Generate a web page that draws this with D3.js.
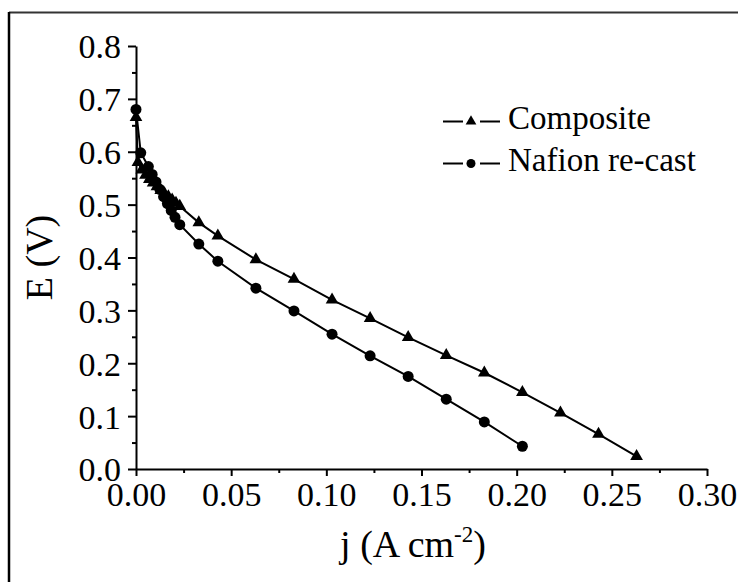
<!DOCTYPE html>
<html>
<head>
<meta charset="utf-8">
<script src="https://cdn.jsdelivr.net/npm/d3@7"></script>
<style>
  html, body { margin: 0; padding: 0; background: #fff; }
  #outer { width: 738px; height: 582px; }
</style>
</head>
<body>
<div id="outer"></div>
<script>
////////////////////////////////////////////////////////////////
// Data
////////////////////////////////////////////////////////////////
const compositeJ = [0, 0.001, 0.003, 0.005, 0.007, 0.009, 0.011, 0.013, 0.015, 0.017, 0.019, 0.021, 0.023,
  0.033, 0.043, 0.063, 0.083, 0.103, 0.123, 0.143, 0.163, 0.183, 0.203, 0.223, 0.243, 0.263];
const compositeE = [0.665, 0.580, 0.566, 0.556, 0.548, 0.541, 0.534, 0.527, 0.521, 0.515, 0.509, 0.503, 0.497,
  0.466, 0.441, 0.396, 0.359, 0.320, 0.285, 0.249, 0.215, 0.182, 0.145, 0.106, 0.066, 0.024];

const nafionJ = [0, 0.0025, 0.0065, 0.0085, 0.0105, 0.0125, 0.0145, 0.0165, 0.0185, 0.0205, 0.023,
  0.033, 0.043, 0.063, 0.083, 0.103, 0.123, 0.143, 0.163, 0.183, 0.203];
const nafionE = [0.680, 0.598, 0.572, 0.557, 0.543, 0.529, 0.515, 0.502, 0.489, 0.476, 0.462,
  0.4255, 0.393, 0.342, 0.299, 0.255, 0.214, 0.175, 0.132, 0.089, 0.043];

const xTicks = [0, 0.05, 0.10, 0.15, 0.20, 0.25, 0.30];
const yTicks = [0, 0.1, 0.2, 0.3, 0.4, 0.5, 0.6, 0.7, 0.8];
const seriesNames = ['Composite', 'Nafion re-cast'];

////////// Hard Coded Defs //////////
const width = 738;
const height = 582;
const font = "'Liberation Serif', 'Times New Roman', serif";
const tickFontSize = 34;
const legendFontSize = 33;
const titleFontSize = 38;

const x = d3.scaleLinear().domain([0, 0.30]).range([136, 707]);
const y = d3.scaleLinear().domain([0, 0.8]).range([469, 46]);

const svg = d3.select('#outer').append('svg')
  .attr('width', width)
  .attr('height', height)
  .style('display', 'block');

// outer frame (only top and left edges show)
svg.append('line')
  .attr('x1', 9).attr('x2', width).attr('y1', 12.5).attr('y2', 12.5)
  .attr('stroke', '#333').attr('stroke-width', 2);
svg.append('line')
  .attr('x1', 9).attr('x2', 9).attr('y1', 12).attr('y2', height)
  .attr('stroke', '#000').attr('stroke-width', 2.5);

////////////////////////////////////////////////////////////////
// Axes
////////////////////////////////////////////////////////////////
const styleAxis = g => {
  g.select('.domain').attr('stroke', '#000').attr('stroke-width', 2);
  g.selectAll('.tick line').attr('stroke', '#000').attr('stroke-width', 2);
  g.selectAll('.tick text')
    .attr('fill', '#000')
    .style('font-family', font)
    .style('font-size', tickFontSize + 'px');
};

// minor ticks first so majors sit on top
svg.append('g')
  .attr('transform', `translate(0,${y(0)})`)
  .call(d3.axisBottom(x).tickValues(d3.range(0.025, 0.3, 0.05)).tickSize(4).tickFormat('').tickSizeOuter(0))
  .call(g => { g.select('.domain').remove(); g.selectAll('.tick line').attr('stroke', '#000').attr('stroke-width', 2); });

svg.append('g')
  .attr('transform', `translate(${x(0)},0)`)
  .call(d3.axisLeft(y).tickValues(d3.range(0.05, 0.8, 0.1)).tickSize(4).tickFormat('').tickSizeOuter(0))
  .call(g => { g.select('.domain').remove(); g.selectAll('.tick line').attr('stroke', '#000').attr('stroke-width', 2); });

svg.append('g')
  .attr('transform', `translate(0,${y(0)})`)
  .call(d3.axisBottom(x).tickValues(xTicks).tickFormat(d3.format('.2f')).tickSize(7).tickPadding(6).tickSizeOuter(0))
  .call(styleAxis);

svg.append('g')
  .attr('transform', `translate(${x(0)},0)`)
  .call(d3.axisLeft(y).tickValues(yTicks).tickFormat(d3.format('.1f')).tickSize(8).tickPadding(7).tickSizeOuter(0))
  .call(styleAxis)
  .call(g => g.selectAll('.tick text').attr('dy', '0.35em'));

// axis titles
const xTitle = svg.append('text')
  .attr('x', 413)
  .attr('y', 557)
  .attr('text-anchor', 'middle')
  .style('font-family', font)
  .style('font-size', titleFontSize + 'px')
  .attr('fill', '#000');
xTitle.append('tspan').text('j (A cm');
xTitle.append('tspan').attr('dy', -15).style('font-size', '23px').text('-2');
xTitle.append('tspan').attr('dy', 15).text(')');

svg.append('text')
  .attr('transform', `translate(52,${(y(0) + y(0.8)) / 2}) rotate(-90)`)
  .attr('text-anchor', 'middle')
  .style('font-family', font)
  .style('font-size', titleFontSize + 'px')
  .attr('fill', '#000')
  .text('E (V)');

////////////////////////////////////////////////////////////////
// Series
////////////////////////////////////////////////////////////////
const composite = compositeJ.map((j, i) => ({ j, e: compositeE[i] }));
const nafion = nafionJ.map((j, i) => ({ j, e: nafionE[i] }));

const line = d3.line().x(d => x(d.j)).y(d => y(d.e));
const triangle = d3.symbol().type(d3.symbolTriangle).size(70);

[composite, nafion].forEach(data => {
  svg.append('path')
    .datum(data)
    .attr('d', line)
    .attr('fill', 'none')
    .attr('stroke', '#000')
    .attr('stroke-width', 2);
});

svg.append('g').selectAll('path')
  .data(composite)
  .join('path')
  .attr('transform', d => `translate(${x(d.j)},${y(d.e)})`)
  .attr('d', triangle)
  .attr('fill', '#000');

svg.append('g').selectAll('circle')
  .data(nafion)
  .join('circle')
  .attr('cx', d => x(d.j))
  .attr('cy', d => y(d.e))
  .attr('r', 5.5)
  .attr('fill', '#000');

////////////////////////////////////////////////////////////////
// Legend
////////////////////////////////////////////////////////////////
const legend = svg.append('g').attr('transform', 'translate(443,121.5)');
const legendRow = 42;

seriesNames.forEach((name, i) => {
  const row = legend.append('g').attr('transform', `translate(0,${i * legendRow})`);
  row.append('line').attr('x1', 0).attr('x2', 20).attr('stroke', '#000').attr('stroke-width', 2);
  row.append('line').attr('x1', 37).attr('x2', 57).attr('stroke', '#000').attr('stroke-width', 2);
  if (i === 0) {
    row.append('path')
      .attr('transform', 'translate(28,0)')
      .attr('d', d3.symbol().type(d3.symbolTriangle).size(50))
      .attr('fill', '#000');
  } else {
    row.append('circle').attr('cx', 28).attr('cy', 0).attr('r', 4.5).attr('fill', '#000');
  }
  row.append('text')
    .attr('x', 65)
    .attr('y', 7)
    .style('font-family', font)
    .style('font-size', legendFontSize + 'px')
    .attr('fill', '#000')
    .text(name);
});
</script>
</body>
</html>
